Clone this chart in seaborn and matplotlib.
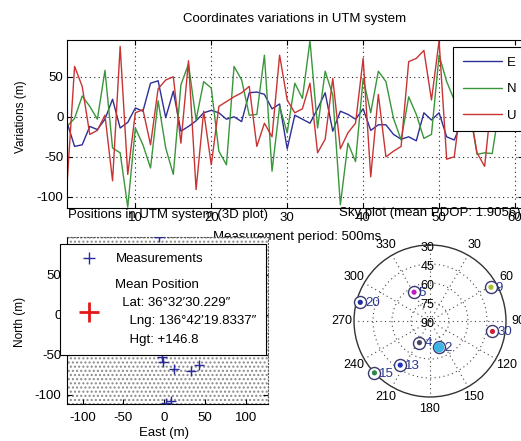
import numpy as np
import pandas as pd
import matplotlib
matplotlib.use("Agg")
import matplotlib.pyplot as plt
from matplotlib.lines import Line2D
from matplotlib.patches import Rectangle
import seaborn as sns

# ---------------------------------------------------------------------------
# UTM coordinate variations of each position fix (m)
# ---------------------------------------------------------------------------
fix_index = list(range(1, 62))
east_var = [-7, -37, -35, -12, -16, -3, 22, -14, -7, 11,
            7, 42, 45, -1, 32, -18, -12, -5, 5, 8,
            5, -3, 0, -6, 30, 31, 28, 10, 16, -40,
            2, -3, -8, 10, 30, -18, 7, 3, -3, 10,
            -17, -10, -10, -22, -28, -25, -30, 5, -4, 5,
            -25, -29, -5, 2, 6, -3, 8, 2, -6, 4, 1]
north_var = [-12, -2, 26, 13, -3, 58, -39, -45, -113, -14,
             -35, -64, 20, -39, -72, 40, 66, -4, 44, 36,
             -43, -60, 63, 46, 2, 3, 77, -68, 13, -20,
             42, 23, 95, -14, 57, 27, -110, -33, -56, 48,
             5, 57, 44, -2, -29, 25, 3, -27, -22, 77,
             44, 21, 30, 10, -47, -45, -46, 15, 35, 20, 40]
up_var = [-85, 63, 38, -22, -17, 2, -80, 88, -72, 5,
          9, -35, 35, 46, 50, -33, 70, -91, 7, -60,
          13, 19, 25, 30, 38, -37, -8, -25, 77, 21,
          5, 10, 42, -45, -28, 48, -40, -20, -8, 73,
          -75, 28, -50, -43, -37, 69, 73, 83, 21, 95,
          -53, -50, 25, 10, -45, -62, 30, 15, 45, 20, 5]
components = ["E", "N", "U"]
component_colors = ["#2e2e96", "#3a963a", "#c83434"]
var_xticks = [10, 20, 30, 40, 50, 60]
var_yticks = [-100, -50, 0, 50]

# ---------------------------------------------------------------------------
# Horizontal position fixes (m, relative to the mean position)
# ---------------------------------------------------------------------------
meas_east = [-7, -3, -1, 12, 33, 43, 2, 8]
meas_north = [98, -53, -59, -67, -70, -63, -110, -108]
mean_east = [0.0]
mean_north = [0.0]
mean_lat = "36°32′30.229″"
mean_lng = "136°42′19.8337″"
mean_hgt = "+146.8"
pos_xticks = [-100, -50, 0, 50, 100]
pos_yticks = [-100, -50, 0, 50]

# ---------------------------------------------------------------------------
# Satellites in view (azimuth / elevation in degrees)
# ---------------------------------------------------------------------------
sat_prn = ["2", "4", "5", "9", "13", "15", "20", "30"]
sat_azimuth = [161, 206, 331, 61, 214, 227, 285, 99.5]
sat_elevation = [68, 71, 64, 35, 48, 30, 33, 40]
sat_colors = ["#3cb4e4", "#454560", "#c21cc2", "#a8c02c",
              "#2030c0", "#2a8a44", "#2030a0", "#d01c3c"]
sat_dot_size = [55, 14, 14, 14, 14, 14, 14, 14]
mean_pdop = 1.9056
azimuth_labels = [30, 60, 90, 120, 150, 180, 210, 240, 270, 300, 330]
elevation_labels = [90, 75, 60, 45, 30]

# ---------------------------------------------------------------------------
sns.set_theme(style="white")
plt.rcParams["font.family"] = ["Liberation Sans", "DejaVu Sans"]
plt.rcParams.update({
    "axes.edgecolor": "black", "text.color": "black",
    "axes.labelcolor": "black", "xtick.color": "black", "ytick.color": "black",
    "axes.linewidth": 0.8, "hatch.linewidth": 1.0,
    "axes.unicode_minus": False,
})

W, H = 521, 441
fig = plt.figure(figsize=(W / 100, H / 100), dpi=100)
fig.patch.set_facecolor("white")


def rect(l, t, r, b):
    return [l / W, 1 - b / H, (r - l) / W, (b - t) / H]


def label_xy(box, px, py):
    l, t, r, b = box
    return (px - l) / (r - l), (b - py) / (b - t)


TICK_FS = 9.5

# ---------------- coordinate variations ----------------
TOP = (67, 40, 522.6, 208)
ax_top = fig.add_axes(rect(*TOP))
df = pd.DataFrame({
    "fix": fix_index * 3,
    "variation": east_var + north_var + up_var,
    "component": sum([[c] * len(fix_index) for c in components], []),
})
sns.lineplot(data=df, x="fix", y="variation", hue="component",
             palette=dict(zip(components, component_colors)),
             estimator=None, sort=False, linewidth=1.0, legend=False, ax=ax_top)
ax_top.set_xlim(1, 61)
ax_top.set_ylim(-114, 96)
ax_top.set_xticks(var_xticks)
ax_top.set_yticks(var_yticks)
ax_top.grid(True, linestyle=(0, (1, 3)), color="#222222", linewidth=0.8)
ax_top.set_axisbelow(True)
ax_top.tick_params(direction="in", top=True, right=True, bottom=True, left=True,
                   length=3.5, width=0.8, labelsize=TICK_FS)
ax_top.tick_params(axis="x", pad=3)
ax_top.tick_params(axis="y", pad=2.5)
ax_top.set_title("Coordinates variations in UTM system", fontsize=9.5, pad=13)
ax_top.set_ylabel("Variations (m)", fontsize=8.5)
ax_top.yaxis.set_label_coords(*label_xy(TOP, 21, 117))
ax_top.yaxis.label.set_va("center")
ax_top.set_xlabel("Measurement period: 500ms", fontsize=9.5)
ax_top.xaxis.set_label_coords(*label_xy(TOP, 297, 237))
ax_top.xaxis.label.set_va("center")

comp_handles = [Line2D([0], [0], color=c, lw=1.0) for c in component_colors]
leg = ax_top.legend(comp_handles, components, loc="upper left",
                    bbox_to_anchor=(453 / W, 1 - 47 / H),
                    bbox_transform=fig.transFigure, borderaxespad=0,
                    frameon=True, fancybox=False, framealpha=1,
                    edgecolor="black", fontsize=TICK_FS, handlelength=3.0,
                    handletextpad=0.4, labelspacing=1.08, borderpad=0.72)
leg.get_frame().set_linewidth(0.8)

# ---------------- horizontal positions ----------------
POS = (67, 237, 268, 404)
ax_pos = fig.add_axes(rect(*POS))
ax_pos.add_patch(Rectangle((0, 0), 1, 1, transform=ax_pos.transAxes,
                           facecolor="white", edgecolor="#8a8a8a",
                           hatch="....", lw=0, zorder=0))
sns.scatterplot(x=meas_east, y=meas_north, marker="+", color="#2a2a9c",
                s=45, linewidth=1.0, ax=ax_pos, zorder=3)
sns.scatterplot(x=mean_east, y=mean_north, marker="+", color="#e41818",
                s=170, linewidth=2.0, ax=ax_pos, zorder=4)
ax_pos.set_xlim(-119, 127)
ax_pos.set_ylim(-111.3, 97.5)
ax_pos.set_xticks(pos_xticks)
ax_pos.set_yticks(pos_yticks)
ax_pos.tick_params(direction="in", bottom=True, left=True, right=True,
                   length=3.5, width=0.8, labelsize=TICK_FS)
ax_pos.tick_params(axis="x", pad=6)
ax_pos.tick_params(axis="y", pad=4)
for side in ("top", "right"):
    ax_pos.spines[side].set_linestyle((0, (1, 2)))
    ax_pos.spines[side].set_color("#555555")
ax_pos.set_title("Positions in UTM system (3D plot)", fontsize=9.5, pad=14)
ax_pos.set_xlabel("East (m)", fontsize=9.5)
ax_pos.xaxis.set_label_coords(*label_xy(POS, 164, 433))
ax_pos.xaxis.label.set_va("center")
ax_pos.set_ylabel("North (m)", fontsize=8.5)
ax_pos.yaxis.set_label_coords(*label_xy(POS, 20, 322))
ax_pos.yaxis.label.set_va("center")

mean_label = ("Mean Position\n  Lat: " + mean_lat + "\n    Lng: " + mean_lng
              + "\n    Hgt: " + mean_hgt)
pos_handles = [
    Line2D([0], [0], marker="+", ls="none", color="#2a2a9c", ms=8, mew=1.0),
    Line2D([0], [0], marker="+", ls="none", color="#e41818", ms=14, mew=2.0),
]
leg2 = ax_pos.legend(pos_handles, ["Measurements", mean_label], loc="upper left",
                     bbox_to_anchor=(60 / W, 1 - 244 / H),
                     bbox_transform=fig.transFigure, borderaxespad=0,
                     frameon=True, fancybox=False, framealpha=1,
                     edgecolor="black", fontsize=TICK_FS, handlelength=3.0,
                     handletextpad=0.5, labelspacing=1.0, borderpad=0.7)
leg2.get_frame().set_linewidth(0.8)
for t in leg2.get_texts():
    t.set_linespacing(1.7)

# ---------------- sky plot ----------------
CX, CY, R = 430, 321, 76
ax_sky = fig.add_axes(rect(CX - R, CY - R, CX + R, CY + R), projection="polar")
ax_sky.set_theta_zero_location("N")
ax_sky.set_theta_direction(-1)
ax_sky.set_ylim(0, 60)
ax_sky.set_yticks([15, 30, 45])
ax_sky.set_yticklabels([])
ax_sky.set_xticks(np.deg2rad(np.arange(0, 360, 30)))
ax_sky.set_xticklabels([])
ax_sky.grid(True, linestyle=(0, (1, 3)), color="#444444", linewidth=0.8)
ax_sky.spines["polar"].set_color("#333333")
ax_sky.spines["polar"].set_linewidth(1.0)
ax_sky.set_facecolor("white")

theta = np.deg2rad(sat_azimuth)
zenith = 90 - np.asarray(sat_elevation, dtype=float)
sns.scatterplot(x=theta, y=zenith, marker="o", s=75, color="white",
                edgecolor="#3a3a6e", linewidth=1.0, ax=ax_sky, zorder=3,
                clip_on=False)
sns.scatterplot(x=theta, y=zenith, hue=sat_prn,
                palette=dict(zip(sat_prn, sat_colors)), s=sat_dot_size,
                linewidth=0, legend=False, ax=ax_sky, zorder=4, clip_on=False)
for prn, th, zr in zip(sat_prn, theta, zenith):
    ax_sky.annotate(prn, xy=(th, zr), xytext=(3.5, -0.5),
                    textcoords="offset points", ha="left", va="center",
                    color="#2a3590", fontsize=9.5, annotation_clip=False,
                    zorder=5)
ax_sky.set_xlabel("")
ax_sky.set_ylabel("")

# azimuth labels around the horizon ring
for az in azimuth_labels:
    a = np.deg2rad(az)
    dx, dy = 88 * np.sin(a), 88 * np.cos(a)
    ax_sky.text(0.5 + dx / (2 * R), 0.5 + dy / (2 * R), str(az),
                transform=ax_sky.transAxes, ha="center", va="center",
                fontsize=9, clip_on=False)
# elevation labels along the north spoke
for el in elevation_labels:
    ax_sky.annotate(str(el), xy=(0, 90 - el), xytext=(-2, -2.5),
                    textcoords="offset points", ha="center", va="center",
                    fontsize=9, annotation_clip=False)

fig.text(CX / W, 1 - 213 / H, f"Sky plot (mean PDOP: {mean_pdop:.4f})",
         ha="center", va="center", fontsize=9.5)

fig.savefig("out.png", dpi=100, facecolor="white")
